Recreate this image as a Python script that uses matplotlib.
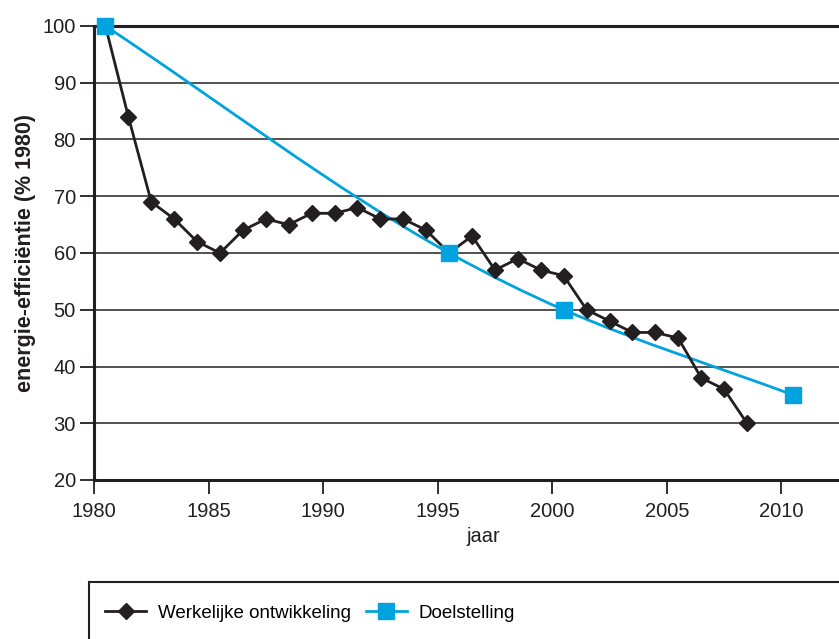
import numpy as np
import matplotlib
matplotlib.use("Agg")
import matplotlib.pyplot as plt
from matplotlib.path import Path
from matplotlib.patches import PathPatch, Rectangle
from matplotlib.lines import Line2D

plt.rcParams['font.family'] = ['Liberation Sans', 'DejaVu Sans']

# werkelijke ontwikkeling, 1980 = 100
jaren = list(range(1980, 2009))
werkelijk = [100, 84, 69, 66, 62, 60, 64, 66, 65, 67, 67, 68, 66, 66, 64,
             60, 63, 57, 59, 57, 56, 50, 48, 46, 46, 45, 38, 36, 30]

# doelstelling
doel_jaren = [1980, 1995, 2000, 2010]
doel = [100, 60, 50, 35]

x_ticks = [1980, 1985, 1990, 1995, 2000, 2005, 2010]
y_ticks = [20, 30, 40, 50, 60, 70, 80, 90, 100]

zwart = '#231f20'
blauw = '#00a3e0'

fig = plt.figure(figsize=(8.39, 6.39), dpi=100)
ax = fig.add_axes([94 / 839, 1 - 480 / 639, 779 / 839, 454 / 639])

# punten staan midden in het jaar
xw = np.array(jaren) + 0.5
xd = np.array(doel_jaren) + 0.5


def smooth_path(xs, ys):
    # vloeiende lijn door de punten (bezier, pchip-hellingen)
    xs = np.asarray(xs, float)
    ys = np.asarray(ys, float)
    h = np.diff(xs)
    d = np.diff(ys) / h
    m = np.empty(len(xs))
    m[0], m[-1] = d[0], d[-1]
    for i in range(1, len(xs) - 1):
        w1 = 2 * h[i] + h[i - 1]
        w2 = h[i] + 2 * h[i - 1]
        m[i] = (w1 + w2) / (w1 / d[i - 1] + w2 / d[i])
    verts = [(xs[0], ys[0])]
    codes = [Path.MOVETO]
    for i in range(len(xs) - 1):
        verts += [(xs[i] + h[i] / 3, ys[i] + m[i] * h[i] / 3),
                  (xs[i + 1] - h[i] / 3, ys[i + 1] - m[i + 1] * h[i] / 3),
                  (xs[i + 1], ys[i + 1])]
        codes += [Path.CURVE4] * 3
    return Path(verts, codes)


ax.add_patch(PathPatch(smooth_path(xd, doel), facecolor='none',
                       edgecolor=blauw, lw=2, zorder=3))
ax.plot(xw, werkelijk, color=zwart, lw=2, marker='D', markersize=8,
        markerfacecolor=zwart, markeredgecolor=zwart, zorder=4)
ax.plot(xd, doel, linestyle='none', marker='s', markersize=11.5,
        color=blauw, zorder=5, clip_on=False)

ax.set_xlim(1980, 2014)
ax.set_ylim(20, 100)
ax.set_xticks(x_ticks)
ax.set_yticks(y_ticks)
ax.tick_params(labelsize=14.5, colors=zwart, length=10, width=1.3)
ax.tick_params(axis='x', pad=6)
ax.tick_params(axis='y', pad=3)

for y in y_ticks[1:-1]:
    ax.axhline(y, color='#333333', lw=1.2, zorder=1)

ax.spines['right'].set_visible(False)
for s in ['left', 'bottom', 'top']:
    ax.spines[s].set_linewidth(2.2)
    ax.spines[s].set_color(zwart)

ax.set_xlabel('jaar', fontsize=14.5, color=zwart, labelpad=4)
ax.set_ylabel('energie-efficiëntie (% 1980)', fontsize=15.5, fontweight='bold',
              color=zwart, labelpad=5)

# legenda in een kader dat buiten de figuur doorloopt
fig.patches.append(Rectangle((89 / 839, -0.1), 1.0, 0.1 + (639 - 582) / 639,
                             transform=fig.transFigure, fill=False,
                             edgecolor=zwart, lw=1.5))
handles = [
    Line2D([], [], color=zwart, lw=2, marker='D', markersize=8),
    Line2D([], [], color=blauw, lw=2, marker='s', markersize=11.5),
]
fig.legend(handles, ['Werkelijke ontwikkeling', 'Doelstelling'], ncol=2,
           loc='center left', bbox_to_anchor=(105 / 839, 1 - 613 / 639),
           frameon=False, fontsize=13.5,
           handlelength=2.2, handletextpad=0.6,
           columnspacing=0.8, borderpad=0, borderaxespad=0)

fig.savefig('out.png', dpi=100)
